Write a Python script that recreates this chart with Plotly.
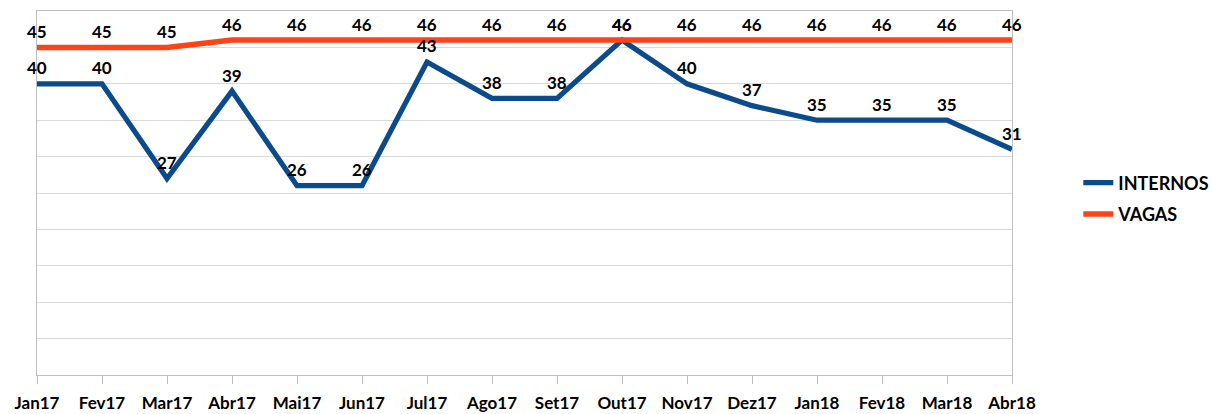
import plotly.graph_objects as go

months = ["Jan17", "Fev17", "Mar17", "Abr17", "Mai17", "Jun17", "Jul17", "Ago17",
          "Set17", "Out17", "Nov17", "Dez17", "Jan18", "Fev18", "Mar18", "Abr18"]
internos = [40, 40, 27, 39, 26, 26, 43, 38, 38, 46, 40, 37, 35, 35, 35, 31]
vagas = [45, 45, 45, 46, 46, 46, 46, 46, 46, 46, 46, 46, 46, 46, 46, 46]

BLUE = "#0B4B8C"
ORANGE = "#FF4317"
FONT = "Lato"

fig = go.Figure()
fig.add_trace(go.Scatter(x=months, y=internos, name="INTERNOS", mode="lines", legendgroup="a",
                         line=dict(color=BLUE, width=5.2), cliponaxis=False))
fig.add_trace(go.Scatter(x=months, y=vagas, name="VAGAS", mode="lines", legendgroup="b",
                         line=dict(color=ORANGE, width=5.5), cliponaxis=False))

for series in (vagas, internos):
    for m, v in zip(months, series):
        fig.add_annotation(x=m, y=v, text=str(v), showarrow=False, yshift=16,
                           font=dict(family=FONT, size=17, color="#000000", weight="bold"))

fig.update_layout(
    width=1212, height=414,
    margin=dict(l=37, r=200, t=11, b=39, autoexpand=False),
    paper_bgcolor="white", plot_bgcolor="white",
    font=dict(family=FONT, color="#000000"),
    showlegend=True,
    legend=dict(x=1.068, y=0.485, xanchor="left", yanchor="middle",
                font=dict(family=FONT, size=18, color="#000000", weight="bold"),
                tracegroupgap=5),
    xaxis=dict(type="category", range=[0, len(months) - 1], showgrid=False, automargin=False,
               showline=True, linecolor="#BFBFBF", linewidth=1, mirror=True,
               ticks="outside", ticklen=8, tickcolor="#BFBFBF", tickson="labels",
               ticklabelstandoff=5,
               tickfont=dict(family=FONT, size=17, color="#000000", weight="bold")),
    yaxis=dict(range=[0, 50], dtick=5, showgrid=True, gridcolor="#D9D9D9", gridwidth=1,
               showticklabels=False, zeroline=False, automargin=False,
               showline=True, linecolor="#BFBFBF", linewidth=1, mirror=True),
)

fig.write_html("out.html", config={"displayModeBar": False},
               post_script="document.body.style.margin='0';document.body.style.padding='0';")
